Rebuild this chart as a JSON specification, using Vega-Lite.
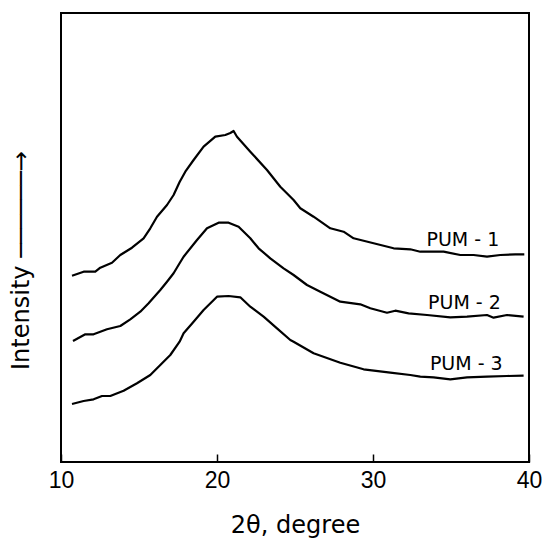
{
  "$schema": "https://vega.github.io/schema/vega-lite/v6.json",
  "width": 468,
  "height": 449,
  "autosize": {"type": "none"},
  "padding": {"left": 61, "top": 13, "right": 13, "bottom": 81},
  "background": "white",
  "config": {
    "view": {"stroke": "black", "strokeWidth": 2},
    "font": "DejaVu Sans"
  },
  "datasets": {
    "curves": [
      {"s": "PUM-1", "t": 10.705, "i": 186.3},
      {"s": "PUM-1", "t": 11.449, "i": 190.3},
      {"s": "PUM-1", "t": 12.199, "i": 190.3},
      {"s": "PUM-1", "t": 12.519, "i": 194.3},
      {"s": "PUM-1", "t": 13.269, "i": 199.3},
      {"s": "PUM-1", "t": 13.801, "i": 207},
      {"s": "PUM-1", "t": 14.551, "i": 214.3},
      {"s": "PUM-1", "t": 15.295, "i": 223.7},
      {"s": "PUM-1", "t": 15.724, "i": 233.7},
      {"s": "PUM-1", "t": 16.154, "i": 245.3},
      {"s": "PUM-1", "t": 16.795, "i": 257},
      {"s": "PUM-1", "t": 17.218, "i": 267},
      {"s": "PUM-1", "t": 17.603, "i": 280},
      {"s": "PUM-1", "t": 17.968, "i": 290.3},
      {"s": "PUM-1", "t": 18.5, "i": 302},
      {"s": "PUM-1", "t": 19.141, "i": 315.3},
      {"s": "PUM-1", "t": 19.891, "i": 325.3},
      {"s": "PUM-1", "t": 20.532, "i": 327},
      {"s": "PUM-1", "t": 20.853, "i": 329},
      {"s": "PUM-1", "t": 21.064, "i": 331},
      {"s": "PUM-1", "t": 21.282, "i": 325.3},
      {"s": "PUM-1", "t": 22.135, "i": 310.3},
      {"s": "PUM-1", "t": 23.205, "i": 292},
      {"s": "PUM-1", "t": 24.058, "i": 275.3},
      {"s": "PUM-1", "t": 24.91, "i": 262},
      {"s": "PUM-1", "t": 25.34, "i": 253.7},
      {"s": "PUM-1", "t": 26.192, "i": 245.3},
      {"s": "PUM-1", "t": 27.263, "i": 233.7},
      {"s": "PUM-1", "t": 28.115, "i": 230.3},
      {"s": "PUM-1", "t": 28.756, "i": 223.7},
      {"s": "PUM-1", "t": 30.038, "i": 218.7},
      {"s": "PUM-1", "t": 31.321, "i": 213.7},
      {"s": "PUM-1", "t": 32.391, "i": 212.7},
      {"s": "PUM-1", "t": 33.032, "i": 210.3},
      {"s": "PUM-1", "t": 34.526, "i": 210.3},
      {"s": "PUM-1", "t": 35.596, "i": 207},
      {"s": "PUM-1", "t": 36.449, "i": 207},
      {"s": "PUM-1", "t": 37.308, "i": 205.3},
      {"s": "PUM-1", "t": 38.16, "i": 207},
      {"s": "PUM-1", "t": 39.122, "i": 207.7},
      {"s": "PUM-1", "t": 39.699, "i": 207.7},

      {"s": "PUM-2", "t": 10.769, "i": 121},
      {"s": "PUM-2", "t": 11.558, "i": 127.7},
      {"s": "PUM-2", "t": 12.09, "i": 127.7},
      {"s": "PUM-2", "t": 12.949, "i": 132.7},
      {"s": "PUM-2", "t": 13.801, "i": 136},
      {"s": "PUM-2", "t": 14.442, "i": 142.7},
      {"s": "PUM-2", "t": 15.083, "i": 150.3},
      {"s": "PUM-2", "t": 15.615, "i": 158.7},
      {"s": "PUM-2", "t": 16.365, "i": 172},
      {"s": "PUM-2", "t": 16.795, "i": 180.3},
      {"s": "PUM-2", "t": 17.218, "i": 188.7},
      {"s": "PUM-2", "t": 17.603, "i": 198.7},
      {"s": "PUM-2", "t": 17.859, "i": 205.3},
      {"s": "PUM-2", "t": 18.718, "i": 222},
      {"s": "PUM-2", "t": 19.359, "i": 233.7},
      {"s": "PUM-2", "t": 20.103, "i": 239.3},
      {"s": "PUM-2", "t": 20.744, "i": 239.3},
      {"s": "PUM-2", "t": 21.385, "i": 235.3},
      {"s": "PUM-2", "t": 22.135, "i": 223.7},
      {"s": "PUM-2", "t": 22.667, "i": 213.7},
      {"s": "PUM-2", "t": 23.417, "i": 203.7},
      {"s": "PUM-2", "t": 24.269, "i": 193.7},
      {"s": "PUM-2", "t": 24.91, "i": 187},
      {"s": "PUM-2", "t": 25.769, "i": 177},
      {"s": "PUM-2", "t": 26.622, "i": 170.3},
      {"s": "PUM-2", "t": 27.904, "i": 160.3},
      {"s": "PUM-2", "t": 29.186, "i": 157.7},
      {"s": "PUM-2", "t": 29.827, "i": 153.7},
      {"s": "PUM-2", "t": 30.897, "i": 149.3},
      {"s": "PUM-2", "t": 31.429, "i": 151.3},
      {"s": "PUM-2", "t": 32.282, "i": 148.7},
      {"s": "PUM-2", "t": 33.462, "i": 147},
      {"s": "PUM-2", "t": 34.955, "i": 144.7},
      {"s": "PUM-2", "t": 36.026, "i": 145.3},
      {"s": "PUM-2", "t": 37.308, "i": 147},
      {"s": "PUM-2", "t": 37.731, "i": 144.3},
      {"s": "PUM-2", "t": 38.59, "i": 147},
      {"s": "PUM-2", "t": 39.654, "i": 145.3},

      {"s": "PUM-3", "t": 10.705, "i": 58},
      {"s": "PUM-3", "t": 11.449, "i": 61},
      {"s": "PUM-3", "t": 12.09, "i": 62.7},
      {"s": "PUM-3", "t": 12.628, "i": 66},
      {"s": "PUM-3", "t": 13.16, "i": 66},
      {"s": "PUM-3", "t": 14.013, "i": 71.3},
      {"s": "PUM-3", "t": 14.872, "i": 78.7},
      {"s": "PUM-3", "t": 15.724, "i": 87},
      {"s": "PUM-3", "t": 16.365, "i": 97},
      {"s": "PUM-3", "t": 17.006, "i": 107},
      {"s": "PUM-3", "t": 17.603, "i": 120.3},
      {"s": "PUM-3", "t": 17.859, "i": 128.7},
      {"s": "PUM-3", "t": 18.5, "i": 140.3},
      {"s": "PUM-3", "t": 19.141, "i": 152},
      {"s": "PUM-3", "t": 20.0, "i": 165.3},
      {"s": "PUM-3", "t": 20.744, "i": 166},
      {"s": "PUM-3", "t": 21.494, "i": 164.7},
      {"s": "PUM-3", "t": 22.135, "i": 155.3},
      {"s": "PUM-3", "t": 22.987, "i": 145.3},
      {"s": "PUM-3", "t": 23.846, "i": 133.7},
      {"s": "PUM-3", "t": 24.699, "i": 122},
      {"s": "PUM-3", "t": 24.91, "i": 120.3},
      {"s": "PUM-3", "t": 26.192, "i": 108.7},
      {"s": "PUM-3", "t": 27.904, "i": 99.3},
      {"s": "PUM-3", "t": 29.397, "i": 92.7},
      {"s": "PUM-3", "t": 31.109, "i": 89.3},
      {"s": "PUM-3", "t": 32.391, "i": 87},
      {"s": "PUM-3", "t": 33.032, "i": 85.3},
      {"s": "PUM-3", "t": 33.885, "i": 84.7},
      {"s": "PUM-3", "t": 34.955, "i": 82.7},
      {"s": "PUM-3", "t": 36.026, "i": 84.7},
      {"s": "PUM-3", "t": 37.308, "i": 85.3},
      {"s": "PUM-3", "t": 38.59, "i": 86},
      {"s": "PUM-3", "t": 39.654, "i": 86.3}
    ],
    "labels": [
      {"label": "PUM - 1", "t": 35.76, "i": 222},
      {"label": "PUM - 2", "t": 35.86, "i": 159.5},
      {"label": "PUM - 3", "t": 35.98, "i": 98}
    ]
  },
  "layer": [
    {
      "data": {"name": "curves"},
      "mark": {"type": "line", "color": "black", "strokeWidth": 2.2, "strokeJoin": "round"},
      "encoding": {
        "x": {
          "field": "t", "type": "quantitative",
          "scale": {"domain": [10, 40], "nice": false, "zero": false},
          "axis": {
            "values": [10, 20, 30, 40],
            "grid": false,
            "domain": false,
            "tickSize": -8,
            "tickColor": "black",
            "tickWidth": 1.5,
            "labelFont": "Liberation Sans",
            "labelFontSize": 23,
            "labelColor": "black",
            "labelPadding": 15,
            "labelBound": false,
            "labelFlush": false,
            "labelOverlap": false,
            "title": "2θ, degree",
            "titleFontSize": 24,
            "titleFontWeight": "normal",
            "titleColor": "black",
            "titlePadding": 21
          }
        },
        "y": {
          "field": "i", "type": "quantitative",
          "scale": {"domain": [0, 449], "nice": false},
          "axis": {
            "grid": false,
            "domain": false,
            "ticks": false,
            "labels": false,
            "title": "Intensity  ──────→",
            "titleFontSize": 24,
            "titleFontWeight": "normal",
            "titleColor": "black",
            "titleX": -40,
            "titleY": 247,
            "titleAlign": "center",
            "titleBaseline": "middle",
            "titleAngle": -90
          }
        },
        "detail": {"field": "s"}
      }
    },
    {
      "data": {"name": "labels"},
      "mark": {"type": "text", "fontSize": 19, "color": "black", "align": "center", "baseline": "middle"},
      "encoding": {
        "x": {"field": "t", "type": "quantitative"},
        "y": {"field": "i", "type": "quantitative"},
        "text": {"field": "label"}
      }
    }
  ]
}
